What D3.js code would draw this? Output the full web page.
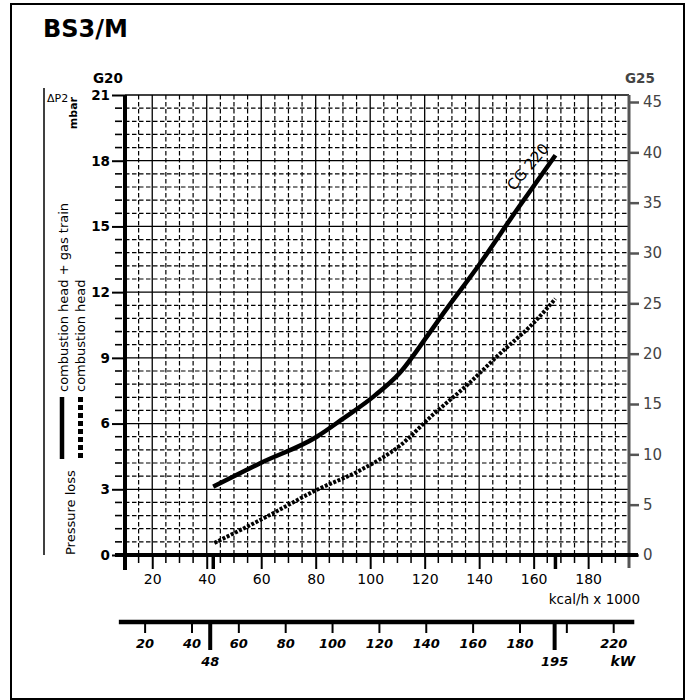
<!DOCTYPE html>
<html>
<head>
<meta charset="utf-8">
<script src="https://cdn.jsdelivr.net/npm/d3@7"></script>
<style>
  body { margin: 0; background: #fff; }
  svg { font-family: "DejaVu Sans", sans-serif; }
</style>
</head>
<body>
<svg id="chart" width="690" height="700"></svg>
<script>
// BS3/M - pressure loss vs output

// kcal/h x 1000 axis
const kcalTicks = [20, 40, 60, 80, 100, 120, 140, 160, 180];
// G20 mbar (left) and G25 mbar (right)
const g20Ticks = [0, 3, 6, 9, 12, 15, 18, 21];
const g25Ticks = [0, 5, 10, 15, 20, 25, 30, 35, 40, 45];
// kW axis
const kwTicks = [20, 40, 60, 80, 100, 120, 140, 160, 180, 200, 220];
const kwLabels = [20, 40, 60, 80, 100, 120, 140, 160, 180, 220];
const kwRange = [48, 195];

// combustion head + gas train (solid)
const trainKcal = [42.4, 59.6, 80.4, 90.2, 101.2, 111.0, 120.8, 126.9, 140.4, 153.8, 168.0];
const trainMbar = [3.12, 4.19, 5.40, 6.24, 7.23, 8.33, 9.97, 11.04, 13.32, 15.75, 18.25];
// combustion head (dotted)
const headKcal = [42.8, 62.0, 80.0, 96.0, 111.0, 123.0, 135.5, 147.7, 160.0, 168.0];
const headMbar = [0.55, 1.75, 2.95, 3.85, 5.00, 6.40, 7.75, 9.20, 10.60, 11.70];

const svg = d3.select("#chart");

// outer frame + title
svg.append("rect")
  .attr("x", 11).attr("y", 4).attr("width", 673).attr("height", 695)
  .attr("fill", "none").attr("stroke", "#000").attr("stroke-width", 2);

svg.append("text")
  .attr("x", 43).attr("y", 37)
  .style("font-size", "24px").style("font-weight", "bold")
  .text("BS3/M");

// scales
const x = d3.scaleLinear().domain([10, 195]).range([125, 629]);
const y = d3.scaleLinear().domain([0, 21]).range([555, 95]);
const y25 = d3.scaleLinear().domain([0, 45]).range([555, 102]);
const xKw = d3.scaleLinear().domain(x.domain().map(k => k / 0.86)).range(x.range());

const [x0, x1] = x.range();
const [yb, yt] = y.range();

// minor grid (dashed)
const grid = svg.append("g");
const minorX = d3.range(15, 195, 5).filter(k => k % 20 !== 0);
const minorY = d3.range(1, 35).filter(i => i % 5 !== 0).map(i => i * 0.6);

grid.selectAll(".vminor").data(minorX).join("line")
  .attr("x1", d => x(d)).attr("x2", d => x(d))
  .attr("y1", yt).attr("y2", yb)
  .attr("stroke", "#000").attr("stroke-width", 1.2).attr("stroke-dasharray", "4.5,2.5");

grid.selectAll(".hminor").data(minorY).join("line")
  .attr("x1", x0).attr("x2", x1)
  .attr("y1", d => y(d)).attr("y2", d => y(d))
  .attr("stroke", "#000").attr("stroke-width", 1.2).attr("stroke-dasharray", "4.5,2.5");

// major grid (solid)
grid.selectAll(".vmajor").data(kcalTicks).join("line")
  .attr("x1", d => x(d)).attr("x2", d => x(d))
  .attr("y1", yt).attr("y2", yb)
  .attr("stroke", "#000").attr("stroke-width", 1.3);

grid.selectAll(".hmajor").data(g20Ticks.slice(1)).join("line")
  .attr("x1", x0).attr("x2", x1)
  .attr("y1", d => y(d)).attr("y2", d => y(d))
  .attr("stroke", "#000").attr("stroke-width", 1.3);

// curves
const line = d3.line().x(d => x(d[0])).y(d => y(d[1])).curve(d3.curveMonotoneX);

svg.append("path")
  .datum(d3.zip(trainKcal, trainMbar))
  .attr("fill", "none").attr("stroke", "#000").attr("stroke-width", 4.5)
  .attr("d", line);

svg.append("path")
  .datum(d3.zip(headKcal, headMbar))
  .attr("fill", "none").attr("stroke", "#000").attr("stroke-width", 4)
  .attr("stroke-dasharray", "3,1.6")
  .attr("d", line);

svg.append("text")
  .attr("transform", `translate(${x(152.8)},${y(16.6)}) rotate(-50)`)
  .style("font-size", "15px")
  .text("CG 220");

// axis text helper
function styleAxis(g, size, weight, color) {
  g.attr("font-family", "DejaVu Sans, sans-serif").attr("font-size", size);
  g.select(".domain").remove();
  g.selectAll("text").attr("font-weight", weight).attr("fill", color);
}

// left axis (G20)
const leftAxis = svg.append("g")
  .attr("transform", `translate(${x0},0)`)
  .call(d3.axisLeft(y).tickValues(g20Ticks).tickSize(13).tickPadding(2));
styleAxis(leftAxis, 13.5, "bold", "#000");
leftAxis.selectAll("line").attr("stroke-width", 2);

svg.append("g").selectAll("line").data(minorY).join("line")
  .attr("x1", x0 - 10).attr("x2", x0 - 3)
  .attr("y1", d => y(d)).attr("y2", d => y(d))
  .attr("stroke", "#000").attr("stroke-width", 1.6);

// right axis (G25)
const rightAxis = svg.append("g")
  .attr("transform", `translate(${x1},0)`)
  .call(d3.axisRight(y25).tickValues(g25Ticks).tickSize(10).tickPadding(4));
styleAxis(rightAxis, 15, "normal", "#444");
rightAxis.selectAll("line").attr("stroke", "#555").attr("stroke-width", 2.5);

svg.append("line")
  .attr("x1", x1).attr("x2", x1).attr("y1", yt).attr("y2", yb + 13)
  .attr("stroke", "#555").attr("stroke-width", 3);

// bottom axis (kcal/h)
const bottomAxis = svg.append("g")
  .attr("transform", `translate(0,${yb})`)
  .call(d3.axisBottom(x).tickValues(kcalTicks).tickSize(14).tickPadding(5));
styleAxis(bottomAxis, 14, "normal", "#000");
bottomAxis.selectAll("line").attr("stroke-width", 2);

svg.append("g").selectAll("line").data(minorX).join("line")
  .attr("x1", d => x(d)).attr("x2", d => x(d))
  .attr("y1", yb + 2).attr("y2", yb + 8)
  .attr("stroke", "#000").attr("stroke-width", 1.5);

// zero line and left axis line
svg.append("line")
  .attr("x1", x0 - 10).attr("x2", x1 + 9).attr("y1", yb).attr("y2", yb)
  .attr("stroke", "#000").attr("stroke-width", 4);
svg.append("line")
  .attr("x1", x0).attr("x2", x0).attr("y1", yt).attr("y2", yb + 15)
  .attr("stroke", "#000").attr("stroke-width", 4);

// output range marks on kcal axis
svg.append("g").selectAll("line").data([trainKcal[0], trainKcal[trainKcal.length - 1]]).join("line")
  .attr("x1", d => x(d)).attr("x2", d => x(d))
  .attr("y1", yb).attr("y2", yb + 14)
  .attr("stroke", "#000").attr("stroke-width", 3.5);

svg.append("text")
  .attr("x", 640).attr("y", 604)
  .attr("text-anchor", "end")
  .style("font-size", "13.5px")
  .text("kcal/h x 1000");

// kW axis
const kwY = 622;
const kwAxis = svg.append("g")
  .attr("transform", `translate(0,${kwY})`)
  .call(d3.axisBottom(xKw).tickValues(kwTicks).tickSize(11).tickPadding(6)
    .tickFormat(d => kwLabels.includes(d) ? d : ""));
styleAxis(kwAxis, 13, "bold", "#000");
kwAxis.selectAll("text").attr("font-style", "italic");
kwAxis.selectAll("line").attr("stroke-width", 2);

svg.append("line")
  .attr("x1", xKw(9)).attr("x2", xKw(229)).attr("y1", kwY).attr("y2", kwY)
  .attr("stroke", "#000").attr("stroke-width", 4.5);

svg.append("g").selectAll("line").data(kwRange).join("line")
  .attr("x1", d => xKw(d)).attr("x2", d => xKw(d))
  .attr("y1", kwY).attr("y2", kwY + 28)
  .attr("stroke", "#000").attr("stroke-width", 4);

svg.append("g").selectAll("text").data(kwRange).join("text")
  .attr("x", d => xKw(d)).attr("y", kwY + 44)
  .attr("text-anchor", "middle")
  .style("font-size", "13px").style("font-style", "italic").style("font-weight", "bold")
  .text(d => d);

svg.append("text")
  .attr("x", xKw(220) + 22).attr("y", kwY + 44)
  .attr("text-anchor", "end")
  .style("font-size", "14px").style("font-style", "italic").style("font-weight", "bold")
  .text("kW");

// gas labels
svg.append("text").attr("x", 93).attr("y", 83)
  .style("font-size", "13.5px").style("font-weight", "bold").text("G20");
svg.append("text").attr("x", 625).attr("y", 83)
  .style("font-size", "13.5px").style("font-weight", "bold").attr("fill", "#444").text("G25");

// left title block
svg.append("line")
  .attr("x1", 44).attr("x2", 44).attr("y1", 88).attr("y2", 555)
  .attr("stroke", "#000").attr("stroke-width", 1.5);

svg.append("text").attr("x", 47).attr("y", 102)
  .style("font-size", "11px").text("ΔP2");
svg.append("text")
  .attr("transform", "translate(77,97) rotate(-90)")
  .attr("text-anchor", "end")
  .style("font-size", "11px").style("font-weight", "bold")
  .text("mbar");

svg.append("text")
  .attr("transform", "translate(75,555) rotate(-90)")
  .style("font-size", "13px")
  .text("Pressure loss");

svg.append("line")
  .attr("x1", 62).attr("x2", 62).attr("y1", 397).attr("y2", 459)
  .attr("stroke", "#000").attr("stroke-width", 4.5);
svg.append("line")
  .attr("x1", 80.5).attr("x2", 80.5).attr("y1", 397).attr("y2", 460)
  .attr("stroke", "#000").attr("stroke-width", 5).attr("stroke-dasharray", "5,3");

svg.append("text")
  .attr("transform", "translate(68,392) rotate(-90)")
  .style("font-size", "13px")
  .text("combustion head + gas train");
svg.append("text")
  .attr("transform", "translate(85,392) rotate(-90)")
  .style("font-size", "13px")
  .text("combustion head");
</script>
</body>
</html>
